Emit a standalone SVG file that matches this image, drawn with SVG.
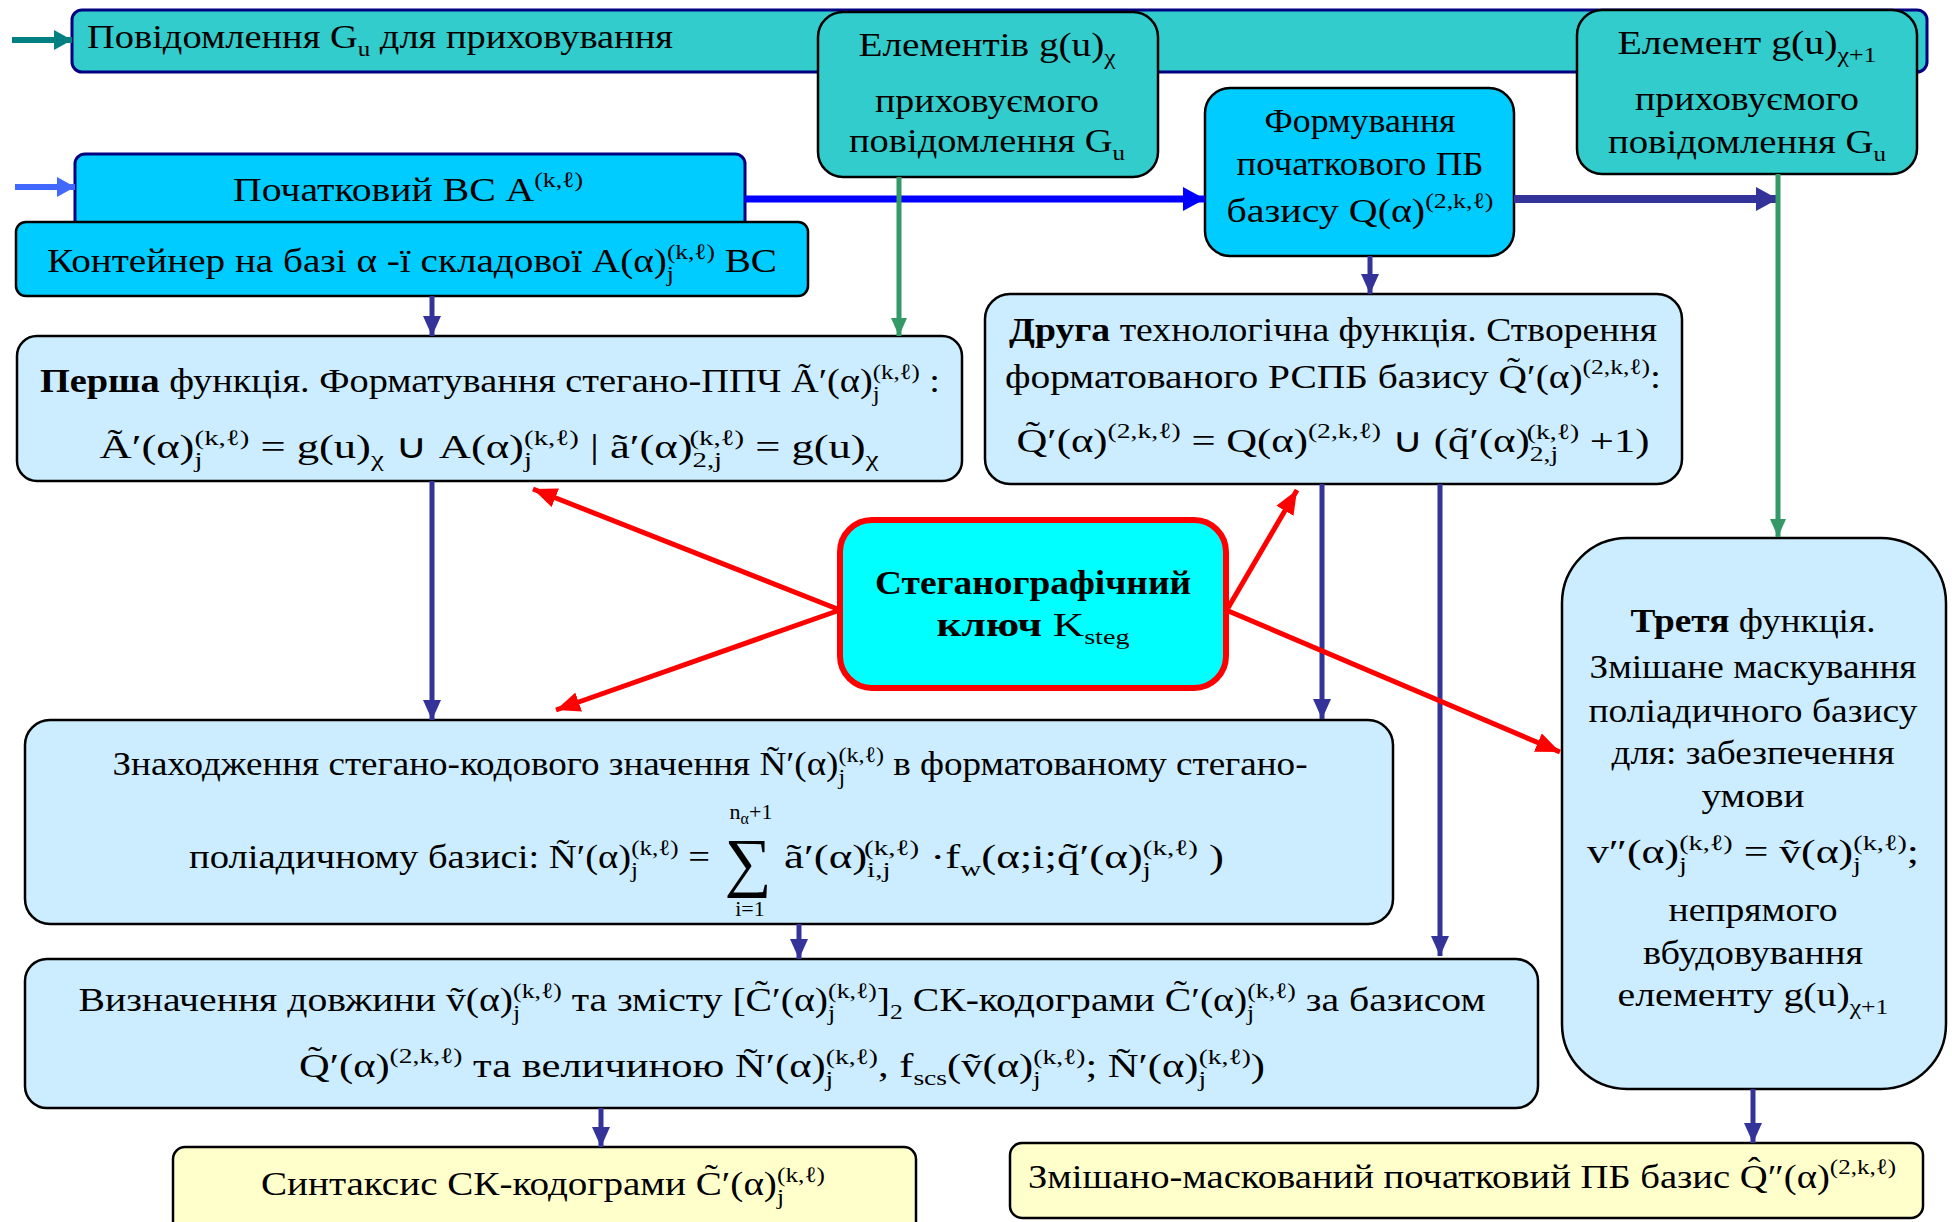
<svg xmlns="http://www.w3.org/2000/svg" width="1952" height="1222" viewBox="0 0 1952 1222">
<style>
.t{font-family:'Liberation Serif','Times New Roman',serif;font-size:34px;fill:#000;text-anchor:middle}
.s{font-size:22px}
.b{font-weight:bold}
.teal{fill:#33CCCC;stroke:#000;stroke-width:2.5}
.cyan{fill:#00CCFF;stroke:#000;stroke-width:2.5}
.lb{fill:#CCECFF;stroke:#000;stroke-width:2.5}
.yl{fill:#FFFFCC;stroke:#000;stroke-width:2.5}
.nv{stroke:#333399;stroke-width:5;fill:none}
.gr{stroke:#339966;stroke-width:5;fill:none}
.rd{stroke:#FF0000;stroke-width:5;fill:none}
</style>
<defs>
<marker id="mNavy" markerUnits="userSpaceOnUse" markerWidth="20" markerHeight="18" refX="20" refY="9" orient="auto"><path d="M0,0 L20,9 L0,18 z" fill="#333399"/></marker>
<marker id="mBlue" markerUnits="userSpaceOnUse" markerWidth="22" markerHeight="24" refX="22" refY="12" orient="auto"><path d="M0,0 L22,12 L0,24 z" fill="#0000FF"/></marker>
<marker id="mNavyB" markerUnits="userSpaceOnUse" markerWidth="22" markerHeight="24" refX="22" refY="12" orient="auto"><path d="M0,0 L22,12 L0,24 z" fill="#333399"/></marker>
<marker id="mGreen" markerUnits="userSpaceOnUse" markerWidth="18" markerHeight="16" refX="18" refY="8" orient="auto"><path d="M0,0 L18,8 L0,16 z" fill="#339966"/></marker>
<marker id="mRed" markerUnits="userSpaceOnUse" markerWidth="24" markerHeight="20" refX="24" refY="10" orient="auto"><path d="M0,0 L24,10 L0,20 z" fill="#FF0000"/></marker>
<marker id="mTeal" markerUnits="userSpaceOnUse" markerWidth="18" markerHeight="20" refX="18" refY="10" orient="auto"><path d="M0,0 L18,10 L0,20 z" fill="#008080"/></marker>
<marker id="mIn" markerUnits="userSpaceOnUse" markerWidth="18" markerHeight="20" refX="18" refY="10" orient="auto"><path d="M0,0 L18,10 L0,20 z" fill="#4169FF"/></marker>
</defs>
<rect width="1952" height="1222" fill="#fff"/>

<g id="banner">
<rect x="72" y="10" width="1855" height="62" rx="10" fill="#33CCCC" stroke="#000080" stroke-width="3"/>
<text class="t" style="text-anchor:start" x="87" y="48" textLength="586" lengthAdjust="spacingAndGlyphs">Повідомлення G<tspan class="s" dy="8">u</tspan><tspan dy="-8"> для приховування</tspan></text>
</g>

<g id="elementiv">
<rect class="teal" x="818" y="12" width="340" height="165" rx="25"/>
<text class="t" x="987" y="56" textLength="257" lengthAdjust="spacingAndGlyphs">Елементів g(u)<tspan class="s" dy="8">χ</tspan></text>
<text class="t" x="987" y="112" textLength="224" lengthAdjust="spacingAndGlyphs">приховуємого</text>
<text class="t" x="987" y="152" textLength="276" lengthAdjust="spacingAndGlyphs">повідомлення G<tspan class="s" dy="8">u</tspan></text>
</g>

<g id="element">
<rect class="teal" x="1577" y="10" width="340" height="164" rx="25"/>
<text class="t" x="1747" y="54" textLength="259" lengthAdjust="spacingAndGlyphs">Елемент g(u)<tspan class="s" dy="8">χ+1</tspan></text>
<text class="t" x="1747" y="110" textLength="224" lengthAdjust="spacingAndGlyphs">приховуємого</text>
<text class="t" x="1747" y="153" textLength="278" lengthAdjust="spacingAndGlyphs">повідомлення G<tspan class="s" dy="8">u</tspan></text>
</g>

<g id="formuvannia">
<rect class="cyan" x="1205" y="88" width="309" height="168" rx="25"/>
<text class="t" x="1360" y="132" textLength="191" lengthAdjust="spacingAndGlyphs">Формування</text>
<text class="t" x="1360" y="175" textLength="247" lengthAdjust="spacingAndGlyphs">початкового ПБ</text>
<text class="t" x="1360" y="222" textLength="267" lengthAdjust="spacingAndGlyphs">базису Q(α)<tspan class="s" dy="-14">(2,k,ℓ)</tspan></text>
</g>

<g id="pochatkovyi">
<rect x="75" y="154" width="670" height="80" rx="10" fill="#00CCFF" stroke="#000080" stroke-width="3"/>
<text class="t" x="408" y="201" textLength="350" lengthAdjust="spacingAndGlyphs">Початковий ВС A<tspan class="s" dy="-14">(k,ℓ)</tspan></text>
</g>

<g id="konteiner">
<rect class="cyan" x="16" y="222" width="792" height="74" rx="10"/>
<text class="t" x="412" y="272" textLength="730" lengthAdjust="spacingAndGlyphs">Контейнер на базі α -ї складової A(α)<tspan class="s" dy="9">j</tspan><tspan class="s" dx="-6" dy="-22">(k,ℓ)</tspan><tspan dy="13"> ВС</tspan></text>
</g>

<g id="persha">
<rect class="lb" x="17" y="336" width="945" height="145" rx="20"/>
<text class="t" x="490" y="392" textLength="900" lengthAdjust="spacingAndGlyphs"><tspan class="b">Перша</tspan> функція. Форматування стегано-ППЧ Ã′(α)<tspan class="s" dy="9">j</tspan><tspan class="s" dx="-6" dy="-22">(k,ℓ)</tspan><tspan dy="13"> :</tspan></text>
<text class="t" x="489" y="458" textLength="779" lengthAdjust="spacingAndGlyphs">Ã′(α)<tspan class="s" dy="9">j</tspan><tspan class="s" dx="-6" dy="-22">(k,ℓ)</tspan><tspan dy="13"> = g(u)</tspan><tspan class="s" dy="8">χ</tspan><tspan dy="-8"> ∪ A(α)</tspan><tspan class="s" dy="9">j</tspan><tspan class="s" dx="-6" dy="-22">(k,ℓ)</tspan><tspan dy="13"> |  ã′(α)</tspan><tspan class="s" dy="9">2,j</tspan><tspan class="s" dx="-25" dy="-22">(k,ℓ)</tspan><tspan dy="13"> = g(u)</tspan><tspan class="s" dy="8">χ</tspan></text>
</g>

<g id="druha">
<rect class="lb" x="985" y="294" width="697" height="190" rx="25"/>
<text class="t" x="1333" y="341" textLength="648" lengthAdjust="spacingAndGlyphs"><tspan class="b">Друга</tspan> технологічна функція. Створення</text>
<text class="t" x="1333" y="388" textLength="656" lengthAdjust="spacingAndGlyphs">форматованого РСПБ базису Q̃′(α)<tspan class="s" dy="-14">(2,k,ℓ)</tspan><tspan dy="14">:</tspan></text>
<text class="t" x="1333" y="452" textLength="633" lengthAdjust="spacingAndGlyphs">Q̃′(α)<tspan class="s" dy="-14">(2,k,ℓ)</tspan><tspan dy="14"> = Q(α)</tspan><tspan class="s" dy="-14">(2,k,ℓ)</tspan><tspan dy="14"> ∪ (q̃′(α)</tspan><tspan class="s" dy="9">2,j</tspan><tspan class="s" dx="-25" dy="-22">(k,ℓ)</tspan><tspan dy="13"> +1)</tspan></text>
</g>

<g id="kliuch">
<rect x="840" y="520" width="386" height="168" rx="32" fill="#00FFFF" stroke="#FF0000" stroke-width="6"/>
<text class="t b" x="1033" y="594" textLength="316" lengthAdjust="spacingAndGlyphs">Стеганографічний</text>
<text class="t" x="1033" y="636" textLength="193" lengthAdjust="spacingAndGlyphs"><tspan class="b">ключ</tspan>  K<tspan class="s" dy="8">steg</tspan></text>
</g>

<g id="tretia">
<rect class="lb" x="1562" y="538" width="384" height="551" rx="65"/>
<text class="t" x="1753" y="632" textLength="245" lengthAdjust="spacingAndGlyphs"><tspan class="b">Третя</tspan> функція.</text>
<text class="t" x="1753" y="678" textLength="327" lengthAdjust="spacingAndGlyphs">Змішане маскування</text>
<text class="t" x="1753" y="722" textLength="329" lengthAdjust="spacingAndGlyphs">поліадичного базису</text>
<text class="t" x="1753" y="764" textLength="283" lengthAdjust="spacingAndGlyphs">для: забезпечення</text>
<text class="t" x="1753" y="807" textLength="103" lengthAdjust="spacingAndGlyphs">умови</text>
<text class="t" x="1753" y="863" textLength="332" lengthAdjust="spacingAndGlyphs">v″(α)<tspan class="s" dy="9">j</tspan><tspan class="s" dx="-6" dy="-22">(k,ℓ)</tspan><tspan dy="13"> = ṽ(α)</tspan><tspan class="s" dy="9">j</tspan><tspan class="s" dx="-6" dy="-22">(k,ℓ)</tspan><tspan dy="13">;</tspan></text>
<text class="t" x="1753" y="921" textLength="169" lengthAdjust="spacingAndGlyphs">непрямого</text>
<text class="t" x="1753" y="964" textLength="220" lengthAdjust="spacingAndGlyphs">вбудовування</text>
<text class="t" x="1753" y="1006" textLength="271" lengthAdjust="spacingAndGlyphs">елементу g(u)<tspan class="s" dy="8">χ+1</tspan></text>
</g>

<g id="znakhodzhennia">
<rect class="lb" x="25" y="720" width="1368" height="204" rx="25"/>
<text class="t" x="710" y="775" textLength="1195" lengthAdjust="spacingAndGlyphs">Знаходження стегано-кодового значення Ñ′(α)<tspan class="s" dy="9">j</tspan><tspan class="s" dx="-6" dy="-22">(k,ℓ)</tspan><tspan dy="13"> в форматованому стегано-</tspan></text>
<text class="t" style="text-anchor:start" x="189" y="868" textLength="521" lengthAdjust="spacingAndGlyphs">поліадичному базисі: Ñ′(α)<tspan class="s" dy="9">j</tspan><tspan class="s" dx="-6" dy="-22">(k,ℓ)</tspan><tspan dy="13"> =</tspan></text>
<text class="t" x="748" y="884" style="font-size:66px">∑</text>
<text class="t s" x="751" y="819">n<tspan dy="5" style="font-size:16px">α</tspan><tspan dy="-5">+1</tspan></text>
<text class="t s" x="750" y="916">i=1</text>
<text class="t" style="text-anchor:start" x="784" y="868" textLength="440" lengthAdjust="spacingAndGlyphs">ã′(α)<tspan class="s" dy="9">i,j</tspan><tspan class="s" dx="-20" dy="-22">(k,ℓ)</tspan><tspan dy="13"> ·f</tspan><tspan class="s" dy="8">w</tspan><tspan dy="-8">(α;i;q̃′(α)</tspan><tspan class="s" dy="9">j</tspan><tspan class="s" dx="-6" dy="-22">(k,ℓ)</tspan><tspan dy="13"> )</tspan></text>
</g>

<g id="vyznachennia">
<rect class="lb" x="25" y="959" width="1513" height="149" rx="22"/>
<text class="t" x="782" y="1011" textLength="1407" lengthAdjust="spacingAndGlyphs">Визначення довжини ṽ(α)<tspan class="s" dy="9">j</tspan><tspan class="s" dx="-6" dy="-22">(k,ℓ)</tspan><tspan dy="13"> та змісту [C̃′(α)</tspan><tspan class="s" dy="9">j</tspan><tspan class="s" dx="-6" dy="-22">(k,ℓ)</tspan><tspan dy="13">]</tspan><tspan class="s" dy="8">2</tspan><tspan dy="-8"> СК-кодограми C̃′(α)</tspan><tspan class="s" dy="9">j</tspan><tspan class="s" dx="-6" dy="-22">(k,ℓ)</tspan><tspan dy="13"> за базисом</tspan></text>
<text class="t" x="782" y="1077" textLength="966" lengthAdjust="spacingAndGlyphs">Q̃′(α)<tspan class="s" dy="-14">(2,k,ℓ)</tspan><tspan dy="14"> та величиною Ñ′(α)</tspan><tspan class="s" dy="9">j</tspan><tspan class="s" dx="-6" dy="-22">(k,ℓ)</tspan><tspan dy="13">, f</tspan><tspan class="s" dy="8">scs</tspan><tspan dy="-8">(ṽ(α)</tspan><tspan class="s" dy="9">j</tspan><tspan class="s" dx="-6" dy="-22">(k,ℓ)</tspan><tspan dy="13">; Ñ′(α)</tspan><tspan class="s" dy="9">j</tspan><tspan class="s" dx="-6" dy="-22">(k,ℓ)</tspan><tspan dy="13">)</tspan></text>
</g>

<g id="syntaksys">
<rect class="yl" x="173" y="1147" width="743" height="90" rx="12"/>
<text class="t" x="543" y="1195" textLength="564" lengthAdjust="spacingAndGlyphs">Синтаксис СК-кодограми C̃′(α)<tspan class="s" dy="9">j</tspan><tspan class="s" dx="-6" dy="-22">(k,ℓ)</tspan></text>
</g>

<g id="zmishano">
<rect class="yl" x="1010" y="1143" width="913" height="75" rx="12"/>
<text class="t" x="1462" y="1188" textLength="868" lengthAdjust="spacingAndGlyphs">Змішано-маскований початковий ПБ базис Q̂″(α)<tspan class="s" dy="-14">(2,k,ℓ)</tspan></text>
</g>

<g id="connectors">
<line x1="12" y1="40" x2="72" y2="40" stroke="#008080" stroke-width="6" marker-end="url(#mTeal)"/>
<line x1="15" y1="187" x2="75" y2="187" stroke="#4169FF" stroke-width="6" marker-end="url(#mIn)"/>
<line x1="745" y1="199" x2="1205" y2="199" stroke="#0000FF" stroke-width="7" marker-end="url(#mBlue)"/>
<line x1="1514" y1="199" x2="1778" y2="199" stroke="#333399" stroke-width="8" marker-end="url(#mNavyB)"/>
<line class="gr" x1="899" y1="177" x2="899" y2="336" marker-end="url(#mGreen)"/>
<line class="gr" x1="1778" y1="174" x2="1778" y2="537" marker-end="url(#mGreen)"/>
<line class="nv" x1="432" y1="296" x2="432" y2="336" marker-end="url(#mNavy)"/>
<line class="nv" x1="1370" y1="256" x2="1370" y2="294" marker-end="url(#mNavy)"/>
<line class="nv" x1="432" y1="481" x2="432" y2="720" marker-end="url(#mNavy)"/>
<line class="nv" x1="1322" y1="484" x2="1322" y2="719" marker-end="url(#mNavy)"/>
<line class="nv" x1="1440" y1="484" x2="1440" y2="956" marker-end="url(#mNavy)"/>
<line class="nv" x1="799" y1="924" x2="799" y2="959" marker-end="url(#mNavy)"/>
<line class="nv" x1="601" y1="1108" x2="601" y2="1147" marker-end="url(#mNavy)"/>
<line class="nv" x1="1753" y1="1089" x2="1753" y2="1143" marker-end="url(#mNavy)"/>
<line class="rd" x1="840" y1="610" x2="533" y2="489" marker-end="url(#mRed)"/>
<line class="rd" x1="840" y1="610" x2="556" y2="710" marker-end="url(#mRed)"/>
<line class="rd" x1="1228" y1="608" x2="1297" y2="490" marker-end="url(#mRed)"/>
<line class="rd" x1="1226" y1="610" x2="1560" y2="752" marker-end="url(#mRed)"/>
</g>
</svg>
